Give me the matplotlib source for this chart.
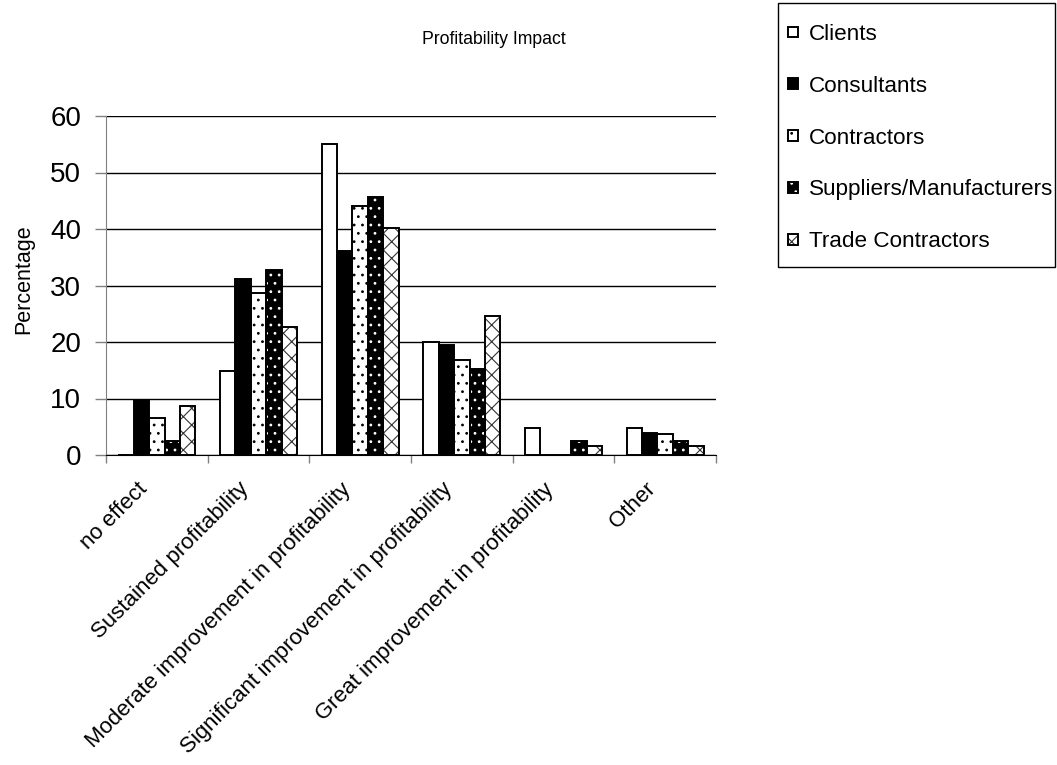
import numpy as np
import matplotlib
matplotlib.use('Agg')
import matplotlib.pyplot as plt
import matplotlib.transforms as mtransforms
from matplotlib.patches import Rectangle

plt.rcParams['font.family'] = ['Liberation Sans', 'DejaVu Sans']
plt.rcParams['hatch.linewidth'] = 0.8

categories = ['no effect', 'Sustained profitability', 'Moderate improvement in profitability',
              'Significant improvement in profitability', 'Great improvement in profitability', 'Other']
series_names = ['Clients', 'Consultants', 'Contractors', 'Suppliers/Manufacturers', 'Trade Contractors']

clients = [0, 14.9, 55.1, 20.0, 4.8, 4.8]
consultants = [9.7, 31.1, 36.1, 19.5, 0, 3.9]
contractors = [6.5, 28.6, 44.1, 16.8, 0, 3.8]
suppliers = [2.4, 32.7, 45.7, 15.3, 2.4, 2.4]
trade = [8.7, 22.6, 40.2, 24.6, 1.6, 1.6]

values = [clients, consultants, contractors, suppliers, trade]
faces = ['white', 'black', 'white', 'black', 'white']
hatch_cols = ['white', 'black', 'black', 'white', '#333333']
hatches = [None, None, '..', '..', 'xx']

fig = plt.figure(figsize=(10.57, 7.65), dpi=100)
ax = fig.add_axes([106 / 1057, 1 - 455 / 765, 610 / 1057, 339 / 765])

x = np.arange(len(categories))
width = 0.152
handles = []
for k in range(5):
    pos = x + (k - 2) * width
    b1 = ax.bar(pos, values[k], width, color=faces[k], edgecolor=hatch_cols[k],
                hatch=hatches[k], linewidth=0, zorder=3)
    b2 = ax.bar(pos, values[k], width, fill=False, edgecolor='black', linewidth=1.4, zorder=4)
    handles.append((b1[0], b2[0]))

ax.set_ylim(0, 60)
ax.set_xlim(-0.5, len(categories) - 0.5)
ax.set_yticks(np.arange(0, 61, 10))
ax.tick_params(axis='y', labelsize=20, length=8, color='#808080', width=1, pad=10)
ax.yaxis.grid(True, color='black', linewidth=1)
ax.set_axisbelow(True)

# category boundaries get the tick marks, centers get the labels
ax.set_xticks(np.arange(len(categories) + 1) - 0.5)
ax.set_xticklabels([])
ax.tick_params(axis='x', length=6, color='#808080', width=1)
ax.set_xticks(x, minor=True)
ax.set_xticklabels(categories, minor=True, rotation=45, ha='right', va='top',
                   rotation_mode='anchor', fontsize=16)
ax.tick_params(axis='x', which='minor', length=0, pad=17)
shift = mtransforms.ScaledTranslation(-20 / 100, 0, fig.dpi_scale_trans)
for lab in ax.get_xticklabels(minor=True):
    lab.set_transform(lab.get_transform() + shift)

for s in ['top', 'right']:
    ax.spines[s].set_visible(False)
ax.spines['left'].set_color('#808080')
ax.spines['bottom'].set_color('black')

ax.set_ylabel('Percentage', fontsize=15.5)
ax.yaxis.set_label_coords(-72 / 610, 0.52)

fig.text(494 / 1057, 1 - 40 / 765, 'Profitability Impact', ha='center', va='center', fontsize=12.7)

leg = fig.legend(handles, series_names, loc='upper left', bbox_to_anchor=(788 / 1057, 1 - 24 / 765),
                 borderaxespad=0, borderpad=0, fontsize=16.2, handlelength=0.45, handleheight=0.36,
                 handletextpad=0.5, labelspacing=1.37, frameon=False)
fig.patches.append(Rectangle((778 / 1057, 1 - 267 / 765), 277 / 1057, 264 / 765,
                             transform=fig.transFigure, fill=False, edgecolor='black', linewidth=1))

plt.savefig('out.png', dpi=100)
